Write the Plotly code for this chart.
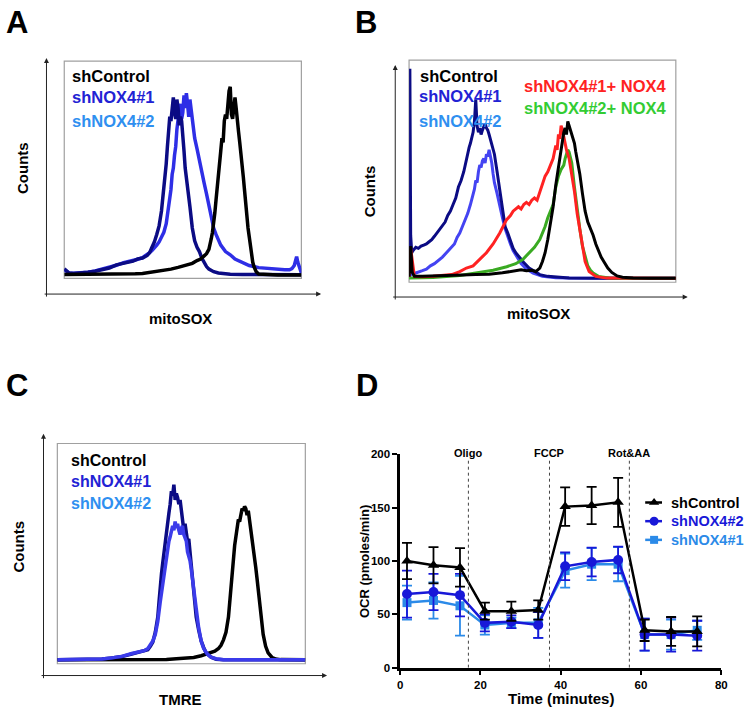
import plotly.graph_objects as go

W, H = 750, 713
FONT = "Arial, 'Liberation Sans', Helvetica, sans-serif"

# ---------------- Panel A (mitoSOX) ----------------
a_ctrl_x = [0, 5, 10, 15, 20, 25, 30, 33, 36, 39, 42, 45, 48, 50, 52, 54, 56, 57.5, 59, 60,
            61, 61.5, 62, 62.5, 63, 63.5, 64, 64.5, 65, 65.5, 66, 66.5, 67, 67.5, 68, 68.5, 69, 69.5, 70, 70.5,
            71, 71.5, 72, 72.5, 73, 73.5, 74, 74.5, 75, 75.5, 76, 76.5, 77, 77.5, 78, 78.5, 79, 79.5, 80, 81,
            82, 85, 90, 95, 100]
a_ctrl_y = [0.3, 0.3, 0.3, 0.4, 0.4, 0.5, 0.6, 0.8, 1.2, 1.6, 2.2, 2.8, 3.6, 4.2, 5.0, 5.5, 6.8, 7.5, 9, 10,
            12, 14, 17, 20, 24, 29, 35, 40, 47, 52, 58, 64, 62, 72, 75, 73, 80, 86, 88, 75,
            73, 80, 83, 78, 70, 67, 62, 55, 50, 46, 40, 33, 27, 22, 18, 13, 9, 6, 4, 1.5,
            0.5, 0.2, 0.1, 0.1, 0.1]
a_sh1_x = [0, 0.5, 1, 2, 4, 7, 10, 13, 16, 19, 22, 25, 27, 29, 31, 33, 35, 36, 37, 38,
           39, 40, 41, 42, 43, 43.5, 44, 44.5, 45, 45.5, 46, 46.5, 47, 47.5, 48, 48.5, 49, 49.5, 50, 50.5,
           51, 52, 53, 54, 55, 56, 57, 58, 59, 60, 61, 62, 63, 65, 67, 70, 75, 80, 90, 100]
a_sh1_y = [3, 2.5, 1.5, 1, 0.8, 0.9, 1.3, 1.8, 2.6, 3.3, 4.8, 5.5, 6.3, 6.5, 7.6, 8.0, 9.2, 10.5, 13, 15.5,
           19, 23, 30, 40, 52, 60, 70, 74, 72, 79, 83, 76, 73, 82, 78, 70, 74, 72, 62, 58,
           50, 42, 32, 22, 16, 13, 11, 8, 5.5, 4, 2.8, 2.2, 1.6, 1, 0.6, 0.4, 0.3, 0.2, 0.2, 0.2]
a_sh2_x = [0, 0.5, 1, 2, 4, 7, 10, 13, 16, 19, 22, 25, 27, 29, 31, 33, 35, 36, 37, 38,
           39, 40, 41, 42, 43, 44, 45, 45.5, 46, 46.5, 47, 47.5, 48, 48.5, 49, 49.5, 50, 50.5, 51, 51.5,
           52, 52.5, 53, 53.5, 54, 54.5, 55, 56, 57, 58, 59, 60, 61, 62, 63, 64, 66, 68, 70, 72,
           75, 78, 82, 86, 90, 93, 95, 96, 97, 97.5, 98, 98.5, 99, 99.5, 100]
a_sh2_y = [2.5, 2, 1.5, 1, 0.9, 1, 1.4, 2, 2.8, 3.5, 4.6, 5.8, 6.2, 6.8, 7.4, 8.2, 9.5, 10.5, 11.5, 12.5,
           14, 15.5, 18, 20, 24, 31, 40, 47, 50, 56, 60, 68, 74, 77, 80, 73, 76, 84, 78, 85,
           80, 74, 82, 77, 71, 68, 64, 59, 53, 48, 43, 38, 33, 27, 22, 19, 14, 11, 9.5, 7.5,
           6, 4.5, 3.5, 3, 2.6, 2.5, 2.5, 3, 4.5, 7, 8.6, 6, 4, 2, 1]

# ---------------- Panel B (mitoSOX, rescue) ----------------
b_sh1_x = [0, 0.3, 0.6, 1.0, 1.5, 2.5, 3.5, 4.5, 5.5, 6.5, 7.5, 8.5, 9.5, 10.5, 11.5, 12.5, 13.5, 14.5, 15.5, 16.5,
           17.5, 18.5, 19.5, 20.5, 21.5, 22.5, 23, 23.5, 24, 24.5, 25, 25.5, 26, 26.5, 27, 27.5, 28, 28.5, 29, 29.5,
           30, 30.5, 31, 32, 33, 34, 35, 36, 37, 38, 39, 40, 41.5, 43, 45, 47, 49, 52, 55, 60,
           70, 80, 90, 100]
b_sh1_y = [2, 96, 20, 12, 13, 14.5, 14, 15, 15.5, 16, 17, 18, 19.5, 21, 22.5, 24, 26, 29, 31, 34,
           37, 42, 45, 49, 55, 60, 62, 65, 67, 72, 82, 70, 67, 69, 66, 68, 70, 71, 69, 68,
           66, 64, 62, 57, 49, 40, 31, 24, 21, 17, 14, 12, 9.5, 7.5, 5, 3.5, 2, 1.2, 0.8, 0.4,
           0.3, 0.3, 0.3, 0.3]
b_sh2_x = [0, 0.6, 2, 3.5, 5, 6.5, 8, 9.5, 11, 12.5, 14, 15.5, 17, 18, 19, 20, 21, 22, 23, 24,
           24.5, 25, 25.5, 26, 26.5, 27, 27.5, 28, 28.5, 29, 29.5, 30, 30.5, 31, 31.5, 32, 33, 34, 35, 36,
           37, 38, 39, 40.5, 42, 44, 46.5, 50, 55, 60, 70, 80, 100]
b_sh2_y = [1, 2, 2.5, 3, 3.8, 4.5, 6, 7, 8.5, 10, 12, 14, 16, 19, 21, 24, 27, 30, 34, 38,
           41, 45, 44, 49, 52, 51, 54, 55, 53, 57, 56, 59, 56, 53, 48, 44, 39, 33, 28, 23,
           19, 16, 13, 10, 7, 4.5, 2.7, 1.2, 0.6, 0.4, 0.3, 0.3, 0.3]
b_ctrl_x = [0, 0.6, 1.2, 2, 5, 10, 15, 20, 25, 30, 35, 38, 40, 42, 44, 46, 47.5, 49, 50, 51,
            52, 53, 54, 55, 56, 57, 57.5, 58, 58.5, 59, 59.5, 60, 60.5, 61, 61.5, 62, 62.5, 63, 64, 65,
            66, 67, 68, 69, 70, 71, 72, 73, 74.5, 76, 78, 80, 84, 90, 100]
b_ctrl_y = [1, 15, 3, 1.2, 1.2, 1.5, 1.5, 1.8, 2, 2.2, 2.8, 3.5, 4, 4.2, 3.8, 4, 3.4, 5, 8, 12,
            18, 25, 33, 43, 52, 60, 63, 67, 69, 66, 72, 70, 68, 67, 65, 62, 58, 55, 48, 39,
            31, 26, 23, 20, 16, 13, 10, 8, 5, 3, 1.4, 0.8, 0.4, 0.3, 0.3]
b_res1_x = [0, 0.6, 2, 5, 9, 13, 16, 19, 21.5, 24, 26.5, 29, 31.5, 34, 36.5, 38, 39, 40, 41, 42,
            43, 44, 45, 46, 47, 48, 49, 50, 51, 52, 53, 54, 54.5, 55, 55.5, 56, 56.5, 57, 57.5, 58,
            58.5, 59, 60, 61, 62, 63, 64, 65, 66, 67.5, 70, 74, 80, 100]
b_res1_y = [1, 14, 1.2, 1, 1.2, 1.5, 2, 3.4, 5, 6, 9, 12, 16, 21, 27, 29, 31, 32, 33, 32,
            34, 35, 34, 36, 37, 36, 40, 44, 47, 49, 52, 55, 58, 61, 59, 66, 64, 70, 68, 65,
            62, 59, 55, 48, 40, 30, 22, 15, 8, 3.4, 1.2, 0.4, 0.3, 0.3]
b_res2_x = [0, 5, 9, 14, 19, 25, 31.5, 36.6, 40, 42.7, 45, 47, 49, 50, 51, 52, 53, 54, 55, 56,
            57, 58, 58.5, 59, 59.5, 60, 60.5, 61, 62, 63, 64, 65, 66, 67, 68, 69, 71, 75, 80, 100]
b_res2_y = [0.5, 0.5, 0.7, 1.1, 1.6, 2.7, 4, 5.6, 7, 9, 12, 14.5, 18, 21, 24, 28, 31, 34, 42, 47,
            50, 52, 55, 57, 59, 58, 56, 53, 42, 32, 23, 15, 10, 6, 4, 2.7, 1.2, 0.5, 0.3, 0.3]

# ---------------- Panel C (TMRE) ----------------
c_ctrl_x = [0, 10, 20, 30, 40, 44, 48, 52, 55, 58, 60, 62, 63.5, 65, 66, 67, 68, 69, 69.5, 70,
            70.5, 71, 71.5, 72, 72.5, 73, 73.5, 74, 74.5, 75, 75.5, 76, 76.5, 77, 77.5, 78, 78.5, 79, 79.5, 80,
            80.5, 81, 81.5, 82, 83, 84, 85, 86.5, 88, 90, 95, 100]
c_ctrl_y = [0.3, 0.3, 0.3, 0.3, 0.4, 0.5, 0.8, 1, 1.4, 2.2, 3, 3.6, 4.3, 5.5, 7, 9.5, 13, 20, 27, 34,
            40, 47, 53, 57, 61, 65, 64, 68, 70, 69, 71, 70, 67, 69, 65, 60, 57, 53, 49, 43,
            38, 32, 27, 22, 12, 6.5, 3.5, 1.5, 0.7, 0.4, 0.3, 0.3]
c_sh1_x = [0, 10, 18, 22, 26, 30, 33, 35, 36.5, 37.5, 38.5, 39.5, 40.5, 41, 41.5, 42, 42.5, 43, 43.5, 44,
           44.5, 45, 45.5, 46, 46.5, 47, 47.5, 48, 48.5, 49, 49.5, 50, 50.5, 51, 51.5, 52, 52.5, 53, 53.5, 54,
           54.5, 55, 55.5, 56, 57, 58, 59, 60, 61, 62, 64, 67, 75, 100]
c_sh1_y = [0.3, 0.3, 0.7, 1.2, 1.8, 3, 3.8, 4.2, 5, 6.5, 8.5, 13, 20, 27, 35, 40, 45, 50, 56, 60,
           64, 68, 72, 78, 76, 81, 74, 77, 75, 72, 74, 68, 66, 60, 63, 58, 55, 56, 50, 45,
           38, 30, 25, 20, 14, 9, 6, 3.5, 2.5, 1.5, 0.6, 0.3, 0.3, 0.3]
c_sh2_x = [0, 10, 18, 22, 26, 30, 33, 35, 36.5, 37.5, 38.5, 39.5, 40.5, 41.5, 42.5, 43, 43.5, 44, 44.5, 45,
           45.5, 46, 46.5, 47, 47.5, 48, 48.5, 49, 49.5, 50, 50.5, 51, 51.5, 52, 52.5, 53, 53.5, 54, 54.5, 55,
           55.5, 56, 57, 58, 59, 60.5, 62, 64, 67, 100]
c_sh2_y = [0.3, 0.3, 0.7, 1.2, 1.9, 3.2, 4, 4.5, 5.5, 7, 9, 12, 18, 27, 35, 40, 43, 46, 50, 55,
           57, 59, 62, 60, 64, 61, 63, 60, 58, 61, 62, 58, 56, 55, 50, 48, 46, 42, 38, 34,
           29, 24, 15, 9, 5.5, 3, 1.5, 0.8, 0.3, 0.3]

# ---------------- Panel D (OCR) ----------------
time_min = [1.7, 8.3, 14.9, 21.1, 27.7, 34.4, 41.1, 47.7, 54.3, 60.9, 67.5, 74.0]
ocr_ctrl = [100, 96, 94, 53, 53, 54, 151, 152, 155, 35, 34, 34]
ocr_ctrl_err = [17, 17, 18, 8, 9, 9, 18, 17.5, 23, 10, 13.5, 14]
ocr_sh2 = [69, 71, 68, 42, 43, 40, 95, 99, 101, 31, 31, 30]
ocr_sh2_err = [22, 17, 20, 8, 6, 12, 13, 13.5, 12.5, 15, 16, 14]
ocr_sh1 = [61, 63, 58, 40, 42, 42, 91, 97, 97, 31, 31, 35]
ocr_sh1_err = [16, 17, 28, 9, 5, 14, 16, 15, 16, 15, 14, 9]
injection_times = [17.0, 37.2, 57.1]
injection_labels = ["Oligo", "FCCP", "Rot&AA"]
d_xticks = [0, 20, 40, 60, 80]
d_yticks = [0, 50, 100, 150, 200]
d_legend_names = ["shControl", "shNOX4#2", "shNOX4#1"]

NAVY = "#0b0b84"
BLUE = "#2e2ee6"
TXT_BLUE = "#2222d4"
TXT_LBLUE = "#2f8ff0"
RED = "#ff2222"
GREEN = "#3aaa22"
TXT_GREEN = "#33cc33"
D_BLUE = "#1818d8"
D_LBLUE = "#2b8ae8"


def px(x):
    return x / W


def py(y):
    return 1 - y / H


fig = go.Figure()


def hist(x, y, color, ax, width=3.5):
    fig.add_trace(go.Scatter(x=x, y=y, mode="lines", line=dict(color=color, width=width),
                             xaxis=ax[0], yaxis=ax[1], showlegend=False, hoverinfo="skip"))


# Panel A
hist(a_sh2_x, a_sh2_y, BLUE, ("x", "y"))
hist(a_sh1_x, a_sh1_y, NAVY, ("x", "y"))
hist(a_ctrl_x, a_ctrl_y, "black", ("x", "y"))
# Panel B
hist(b_sh2_x, b_sh2_y, "#4444f2", ("x2", "y2"), 3)
hist(b_sh1_x, b_sh1_y, NAVY, ("x2", "y2"), 3)
hist(b_res2_x, b_res2_y, GREEN, ("x2", "y2"), 3)
hist(b_res1_x, b_res1_y, RED, ("x2", "y2"), 3)
hist(b_ctrl_x, b_ctrl_y, "black", ("x2", "y2"), 3)
# Panel C
hist(c_ctrl_x, c_ctrl_y, "black", ("x3", "y3"))
hist(c_sh1_x, c_sh1_y, NAVY, ("x3", "y3"))
hist(c_sh2_x, c_sh2_y, "#3b3bea", ("x3", "y3"))


# Panel D
def ocr(y, err, color, symbol, size):
    fig.add_trace(go.Scatter(
        x=time_min, y=y, mode="lines+markers", showlegend=False,
        line=dict(color=color, width=2.5),
        marker=dict(color=color, symbol=symbol, size=size),
        error_y=dict(type="data", array=err, visible=True, color=color, thickness=1.8, width=5),
        xaxis="x4", yaxis="y4", cliponaxis=False))


ocr(ocr_sh1, ocr_sh1_err, D_LBLUE, "square", 9)
ocr(ocr_sh2, ocr_sh2_err, D_BLUE, "circle", 10)
ocr(ocr_ctrl, ocr_ctrl_err, "black", "triangle-up", 10)

# Legend of panel D (drawn on a full-figure pixel overlay axis)
leg_rows = [505, 524, 543]
leg_colors = ["black", D_BLUE, D_LBLUE]
leg_symbols = ["triangle-up", "circle", "square"]
for row, col, sym in zip(leg_rows, leg_colors, leg_symbols):
    fig.add_trace(go.Scatter(x=[650, 667], y=[row, row], mode="lines", line=dict(color=col, width=2.5),
                             xaxis="x5", yaxis="y5", showlegend=False, hoverinfo="skip"))
    fig.add_trace(go.Scatter(x=[659], y=[row], mode="markers",
                             marker=dict(color=col, symbol=sym, size=9 if sym != "square" else 8),
                             xaxis="x5", yaxis="y5", showlegend=False, hoverinfo="skip"))

hidden = dict(visible=False, range=[0, 100], fixedrange=True)
hidden_y = dict(visible=False, range=[-1.5, 100], fixedrange=True)

boxes = {
    "A": (62, 302, 56, 277),
    "B": (411, 681, 55, 281),
    "C": (55, 306, 445, 669),
}

axis_d = dict(showline=True, linecolor="black", linewidth=2.5, ticks="outside", ticklen=5,
              tickwidth=2, tickcolor="black", showgrid=False, zeroline=False,
              tickfont=dict(size=11.5, weight="bold", family=FONT), fixedrange=True)

layout = dict(
    width=W, height=H, margin=dict(l=0, r=0, t=0, b=0),
    paper_bgcolor="white", plot_bgcolor="rgba(0,0,0,0)",
    font=dict(family=FONT, color="black"),
    showlegend=False,
    xaxis=dict(hidden, domain=[px(62), px(302)], anchor="y"),
    yaxis=dict(hidden_y, domain=[py(277), py(56)], anchor="x"),
    xaxis2=dict(hidden, domain=[px(411), px(681)], anchor="y2"),
    yaxis2=dict(hidden_y, domain=[py(281), py(55)], anchor="x2"),
    xaxis3=dict(hidden, domain=[px(55), px(306)], anchor="y3"),
    yaxis3=dict(hidden_y, domain=[py(669), py(445)], anchor="x3"),
    xaxis4=dict(axis_d, domain=[px(402), px(727)], anchor="y4", range=[0, 80], tickvals=d_xticks),
    yaxis4=dict(axis_d, domain=[py(673), py(456)], anchor="x4", range=[0, 200], tickvals=d_yticks),
    xaxis5=dict(visible=False, domain=[0, 1], range=[0, W], anchor="y5", fixedrange=True),
    yaxis5=dict(visible=False, domain=[0, 1], range=[H, 0], anchor="x5", fixedrange=True),
)
fig.update_layout(**layout)

shapes = []
for k, (x0, x1, y0, y1) in boxes.items():
    shapes.append(dict(type="rect", xref="paper", yref="paper", x0=px(x0), x1=px(x1), y0=py(y1), y1=py(y0),
                       line=dict(color="#a0a0a0", width=1.2), layer="below"))
for t in injection_times:
    shapes.append(dict(type="line", xref="x4", yref="y4", x0=t, x1=t, y0=0, y1=194,
                       line=dict(color="#444444", width=1, dash="dot")))
fig.update_layout(shapes=shapes)

ann = []


def text(x, y, s, size, color="black", angle=0, xanchor="center"):
    ann.append(dict(x=px(x), y=py(y), xref="paper", yref="paper", text="<b>" + s + "</b>", showarrow=False,
                    font=dict(size=size, color=color, family=FONT), textangle=angle,
                    xanchor=xanchor, yanchor="middle", borderpad=0))


def arrow(x0, y0, x1, y1):
    # head at (x1, y1), tail at (x0, y0); offsets in screen pixels
    ann.append(dict(x=px(x1), y=py(y1), ax=x0 - x1, ay=y0 - y1, xref="paper", yref="paper",
                    axref="pixel", ayref="pixel", text="", showarrow=True, arrowhead=2,
                    arrowsize=1, arrowwidth=1, arrowcolor="#222222"))


# panel letters
text(14, 17, "A", 31)
text(367, 17, "B", 31)
text(14, 386, "C", 31)
text(368, 386, "D", 31)

# axis arrows
arrow(44, 293, 44, 53)
arrow(44, 293, 322, 293)
arrow(397, 296, 397, 60)
arrow(397, 296, 693, 296)
arrow(41, 681, 41, 435)
arrow(41, 681, 328, 681)

# axis titles
text(19, 165, "Counts", 15, angle=-90)
text(180, 318, "mitoSOX", 15)
text(371, 189, "Counts", 15, angle=-90)
text(542, 313, "mitoSOX", 15)
text(16, 550, "Counts", 15, angle=-90)
text(180, 705, "TMRE", 15)
text(565, 704, "Time (minutes)", 15)
text(366, 565, "OCR (pmoles/min)", 13, angle=-90)

# in-plot labels
text(69, 71, "shControl", 16.5, xanchor="left")
text(69, 93, "shNOX4#1", 16.5, TXT_BLUE, xanchor="left")
text(69, 117, "shNOX4#2", 16.5, TXT_LBLUE, xanchor="left")
text(421, 71, "shControl", 16.5, xanchor="left")
text(420, 92, "shNOX4#1", 16.5, TXT_BLUE, xanchor="left")
text(420, 117, "shNOX4#2", 16.5, TXT_LBLUE, xanchor="left")
text(526, 81, "shNOX4#1+ NOX4", 16.5, RED, xanchor="left")
text(526, 104, "shNOX4#2+ NOX4", 16.5, TXT_GREEN, xanchor="left")
text(68, 462, "shControl", 16, xanchor="left")
text(68, 484, "shNOX4#1", 16, TXT_BLUE, xanchor="left")
text(68, 506, "shNOX4#2", 16, TXT_LBLUE, xanchor="left")

# panel D legend texts
for row, col, name in zip(leg_rows, leg_colors, d_legend_names):
    text(675, row, name, 14.5, col, xanchor="left")

for t, lab in zip(injection_times, injection_labels):
    ann.append(dict(x=t, y=200, xref="x4", yref="y4", text="<b>" + lab + "</b>", showarrow=False,
                    font=dict(size=11, family=FONT), xanchor="center", yanchor="middle", yshift=1))

fig.update_layout(annotations=ann)

fig.write_html("out.html", config={"displayModeBar": False},
               post_script="document.body.style.margin='0';document.body.style.overflow='hidden';")
